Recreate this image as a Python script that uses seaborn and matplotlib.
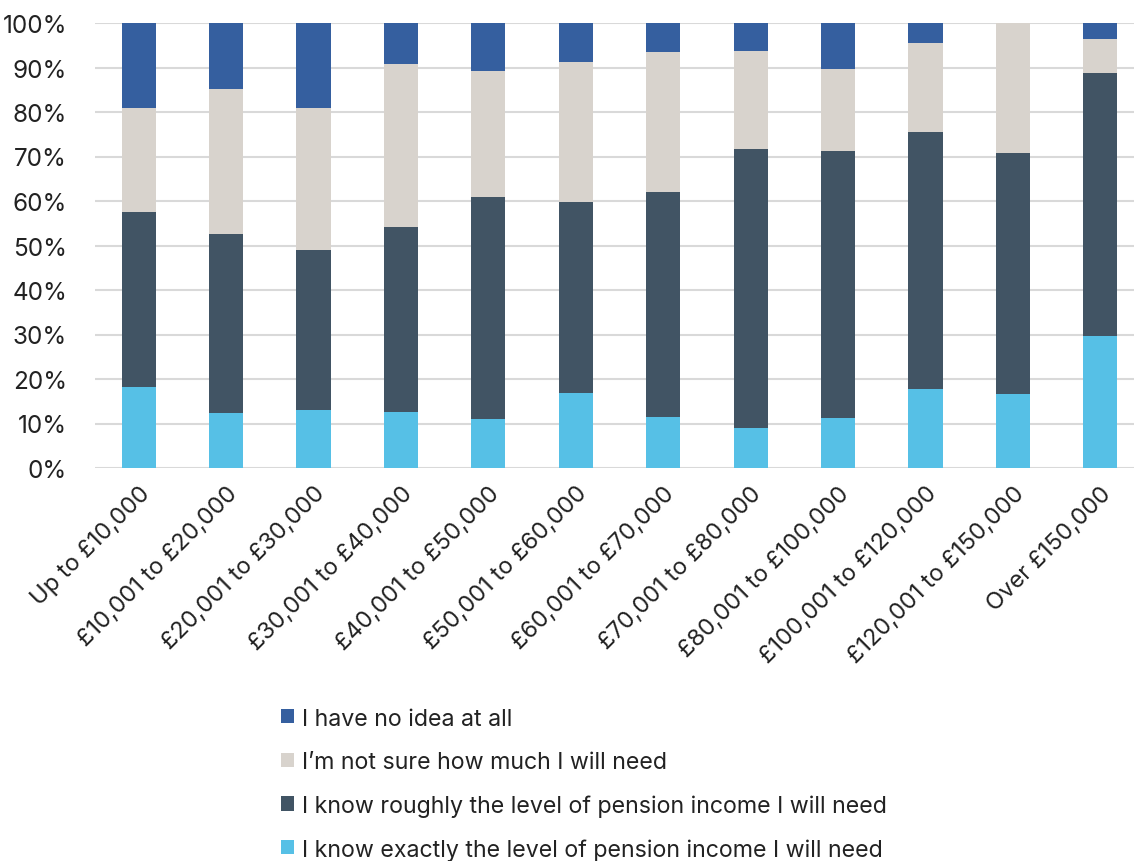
import matplotlib
matplotlib.use("Agg")
import matplotlib.pyplot as plt
import seaborn as sns
import pandas as pd
import numpy as np
from matplotlib.patches import Patch

categories = ["Up to £10,000", "£10,001 to £20,000", "£20,001 to £30,000",
              "£30,001 to £40,000", "£40,001 to £50,000", "£50,001 to £60,000",
              "£60,001 to £70,000", "£70,001 to £80,000", "£80,001 to £100,000",
              "£100,001 to £120,000", "£120,001 to £150,000", "Over £150,000"]
know_exactly = [18.1, 12.3, 13.0, 12.5, 11.1, 16.9, 11.5, 8.9, 11.2, 17.8, 16.6, 29.6]
know_roughly = [39.5, 40.3, 35.9, 41.7, 49.7, 42.8, 50.6, 62.8, 60.1, 57.7, 54.1, 59.2]
not_sure = [23.2, 32.6, 32.1, 36.6, 28.5, 31.5, 31.3, 21.9, 18.4, 20.0, 29.3, 7.5]
no_idea = [19.2, 14.8, 19.0, 9.2, 10.7, 8.8, 6.6, 6.4, 10.3, 4.5, 0.0, 3.7]

series_names = ["I have no idea at all",
                "I\u2019m not sure how much I will need",
                "I know roughly the level of pension income I will need",
                "I know exactly the level of pension income I will need"]
colors = ["#355F9F", "#D8D3CD", "#415464", "#56C0E6"]

sns.set_theme(style="white")
plt.rcParams['font.family'] = ['Inter', 'DejaVu Sans']

df = pd.DataFrame({"cat": categories,
                   "exact": know_exactly, "roughly": know_roughly,
                   "notsure": not_sure, "noidea": no_idea})
df["c1"] = df["exact"]
df["c2"] = df["c1"] + df["roughly"]
df["c3"] = df["c2"] + df["notsure"]
df["c4"] = df["c3"] + df["noidea"]

fig = plt.figure(figsize=(11.34, 8.62), dpi=100)
ax = fig.add_axes([95/1134, 1-469/862, 1049/1134, 445/862])

for col, color in zip(["c4", "c3", "c2", "c1"], colors):
    sns.barplot(data=df, x="cat", y=col, color=color, ax=ax, width=0.39,
                saturation=1, edgecolor="none", linewidth=0, zorder=3)

ax.set_ylim(0, 100)
ax.set_xlim(-0.5, 11.5)
ax.set_yticks(np.arange(0, 101, 10))
ax.set_yticklabels([f"{v}%" for v in range(0, 101, 10)], fontsize=17.5, color="#222222")
ax.set_xticks(range(len(categories)))
ax.set_xticklabels(categories, rotation=45, ha="right", rotation_mode="anchor",
                   fontsize=17, color="#222222")
ax.tick_params(axis="y", length=0, pad=20)
ax.tick_params(axis="x", length=0, pad=10)
ax.yaxis.grid(True, color="#D9D9D9", linewidth=1.5, zorder=0)
ax.set_axisbelow(True)
for s in ax.spines.values():
    s.set_visible(False)
ax.set_xlabel("")
ax.set_ylabel("")

handles = [Patch(facecolor=c, edgecolor="none") for c in colors]
fig.legend(handles, series_names, loc="upper left",
           bbox_to_anchor=(262/1134, 1-690/862), frameon=False,
           fontsize=16.7, handlelength=0.56, handleheight=0.56, handletextpad=0.35,
           labelspacing=0.92, labelcolor="#222222", borderpad=0.3)

fig.savefig("out.png", dpi=100)
